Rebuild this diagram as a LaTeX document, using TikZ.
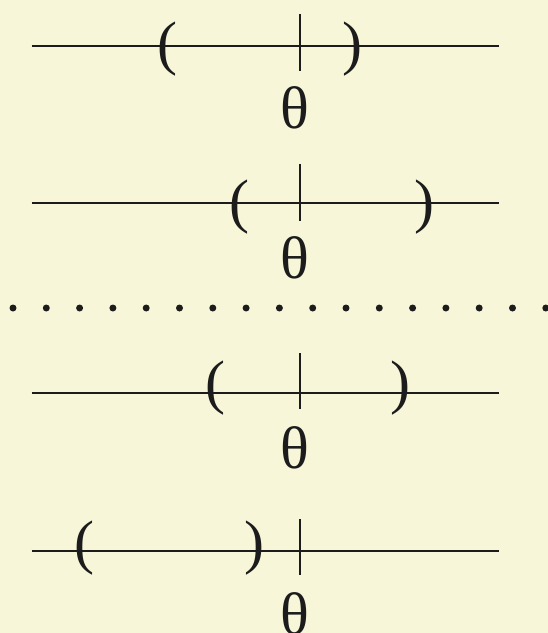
\documentclass[tikz,border=0pt]{standalone}
\usepackage{fontspec}
\setmainfont{Liberation Serif}
\definecolor{bgcol}{RGB}{247,246,216}
\definecolor{inkcol}{RGB}{28,28,28}
\tikzset{
  glyph/.style={inner sep=0pt, outer sep=0pt, text=inkcol, font=\fontsize{60}{60}\selectfont},
  axisline/.style={draw=inkcol, line width=1.8pt},
  tickmark/.style={draw=inkcol, line width=2.2pt},
  dotmark/.style={fill=inkcol, draw=none}
}
\begin{document}
\begin{tikzpicture}[x=1pt,y=-1pt]
\fill[bgcol] (0,0) rectangle (548,633);
\useasboundingbox (0,0) rectangle (548,633);
% line 1
\coordinate (a1) at (31.5,46); \coordinate (b1) at (498.5,46);
\draw[axisline] (a1) -- (b1);
\coordinate (t1a) at (300,14); \coordinate (t1b) at (300,71);
\draw[tickmark] (t1a) -- (t1b);
\node[glyph] (l1) at (167.5,49.5) {(};
\node[glyph] (r1) at (352,49.5) {)};
\node[glyph] (th1) at (294.5,108) {θ};
% line 2
\coordinate (a2) at (31.5,203); \coordinate (b2) at (498.5,203);
\draw[axisline] (a2) -- (b2);
\coordinate (t2a) at (300,164); \coordinate (t2b) at (300,221);
\draw[tickmark] (t2a) -- (t2b);
\node[glyph] (l2) at (239.5,207) {(};
\node[glyph] (r2) at (424,207) {)};
\node[glyph] (th2) at (294.5,258) {θ};
% dots
\foreach \k in {0,...,16} {
  \fill[dotmark] ({13+33.3*\k},308) circle (3.5);
}
% line 3
\coordinate (a3) at (31.5,393); \coordinate (b3) at (498.5,393);
\draw[axisline] (a3) -- (b3);
\coordinate (t3a) at (300,353); \coordinate (t3b) at (300,409);
\draw[tickmark] (t3a) -- (t3b);
\node[glyph] (l3) at (215,388) {(};
\node[glyph] (r3) at (400,388) {)};
\node[glyph] (th3) at (294.5,448) {θ};
% line 4
\coordinate (a4) at (31.5,551); \coordinate (b4) at (498.5,551);
\draw[axisline] (a4) -- (b4);
\coordinate (t4a) at (300,519); \coordinate (t4b) at (300,575);
\draw[tickmark] (t4a) -- (t4b);
\node[glyph] (l4) at (84,548) {(};
\node[glyph] (r4) at (254,548) {)};
\node[glyph] (th4) at (294.5,613.5) {θ};
\end{tikzpicture}
\end{document}
